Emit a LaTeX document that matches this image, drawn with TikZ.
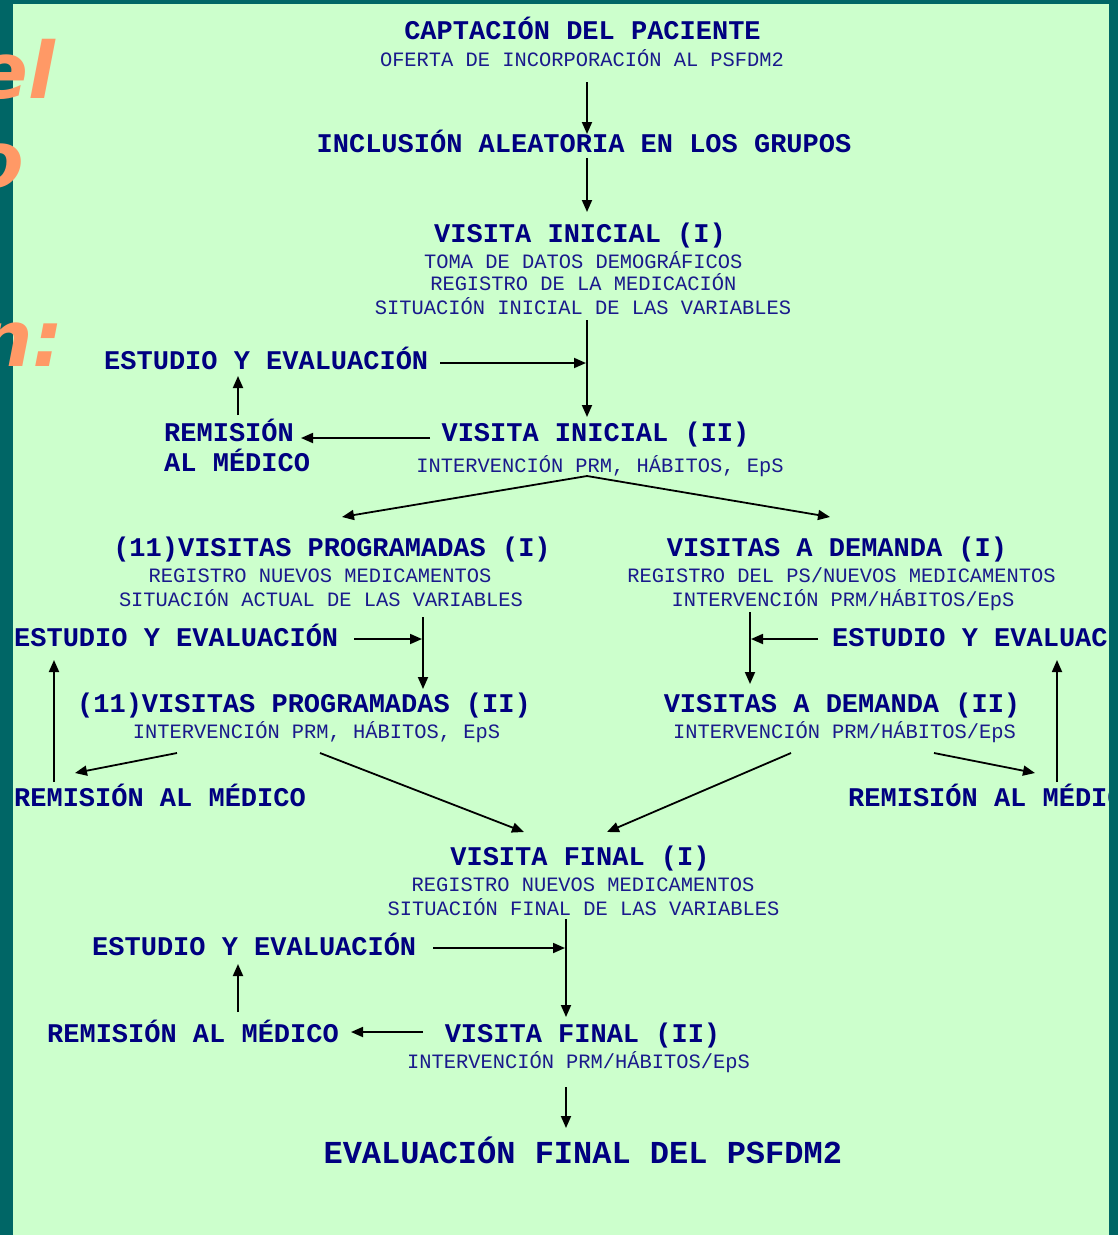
\documentclass[tikz,border=0pt]{standalone}
\usepackage{fontspec}
\setmonofont{Liberation Mono}
\newfontfamily\orfont{DejaVu Sans}
\usetikzlibrary{arrows.meta}
\definecolor{panel}{HTML}{CCFFCC}
\definecolor{frame}{HTML}{006666}
\definecolor{ink}{HTML}{000080}
\definecolor{subink}{HTML}{1A1A8C}
\definecolor{orange}{HTML}{FF9966}
\tikzset{
  hd/.style={font=\fontsize{27}{30}\selectfont\ttfamily\bfseries, text=ink, inner sep=0pt, anchor=base},
  hdl/.style={hd, anchor=base west},
  sb/.style={font=\fontsize{20.4}{24}\selectfont\ttfamily, text=subink, inner sep=0pt, anchor=base},
  big/.style={font=\fontsize{32}{36}\selectfont\ttfamily\bfseries, text=ink, inner sep=0pt, anchor=base},
  arr/.style={draw=black, line width=1.8pt, -{Triangle[length=12pt,width=10pt]}},
  orn/.style={font=\fontsize{78}{80}\selectfont\orfont\bfseries\itshape, text=orange, inner sep=0pt, anchor=base east}
}
\begin{document}
\begin{tikzpicture}[x=1pt,y=-1pt]
\useasboundingbox (0,0) rectangle (1118,1235);
\fill[panel] (0,0) rectangle (1118,1235);

% ---- texts ----
\node[hd] (capt) at (582.5,39) {CAPTACIÓN DEL PACIENTE};
\node[sb] (capts) at (582,66) {OFERTA DE INCORPORACIÓN AL PSFDM2};
\node[hd] (incl) at (584,152) {INCLUSIÓN ALEATORIA EN LOS GRUPOS};
\node[hd] (vi1) at (580,242) {VISITA INICIAL (I)};
\node[sb] (vi1a) at (583.3,268) {TOMA DE DATOS DEMOGRÁFICOS};
\node[sb] (vi1b) at (583.3,290) {REGISTRO DE LA MEDICACIÓN};
\node[sb] (vi1c) at (583,314) {SITUACIÓN INICIAL DE LAS VARIABLES};
\node[hdl] (est1) at (104,369) {ESTUDIO Y EVALUACIÓN};
\node[hdl] (rem1a) at (164,441) {REMISIÓN};
\node[hdl] (rem1b) at (164,471) {AL MÉDICO};
\node[hd] (vi2) at (595.5,441) {VISITA INICIAL (II)};
\node[sb] (vi2a) at (600,472) {INTERVENCIÓN PRM, HÁBITOS, EpS};

\node[hd] (vp1) at (332,556) {(11)VISITAS PROGRAMADAS (I)};
\node[sb] (vp1a) at (320,582) {REGISTRO NUEVOS MEDICAMENTOS};
\node[sb] (vp1b) at (321,606) {SITUACIÓN ACTUAL DE LAS VARIABLES};
\node[hdl] (est2) at (14,646) {ESTUDIO Y EVALUACIÓN};
\node[hd] (vp2) at (304,712) {(11)VISITAS PROGRAMADAS (II)};
\node[sb] (vp2a) at (316.5,738) {INTERVENCIÓN PRM, HÁBITOS, EpS};
\node[hdl] (rem2) at (14,806) {REMISIÓN AL MÉDICO};

\node[hd] (vd1) at (837,556) {VISITAS A DEMANDA (I)};
\node[sb] (vd1a) at (841.5,582) {REGISTRO DEL PS/NUEVOS MEDICAMENTOS};
\node[sb] (vd1b) at (843,606) {INTERVENCIÓN PRM/HÁBITOS/EpS};
\node[hdl] (est3) at (832,646) {ESTUDIO Y EVALUACIÓN};
\node[hd] (vd2) at (842,712) {VISITAS A DEMANDA (II)};
\node[sb] (vd2a) at (844.5,738) {INTERVENCIÓN PRM/HÁBITOS/EpS};
\node[hdl] (rem3) at (848,806) {REMISIÓN AL MÉDICO};

\node[hd] (vf1) at (580,865) {VISITA FINAL (I)};
\node[sb] (vf1a) at (583,891) {REGISTRO NUEVOS MEDICAMENTOS};
\node[sb] (vf1b) at (583.5,915) {SITUACIÓN FINAL DE LAS VARIABLES};
\node[hdl] (est4) at (92,955) {ESTUDIO Y EVALUACIÓN};
\node[hdl] (rem4) at (47,1042) {REMISIÓN AL MÉDICO};
\node[hd] (vf2) at (582.5,1042) {VISITA FINAL (II)};
\node[sb] (vf2a) at (578.5,1068) {INTERVENCIÓN PRM/HÁBITOS/EpS};
\node[big] (fin) at (582.8,1163) {EVALUACIÓN FINAL DEL PSFDM2};

% ---- connector end points ----
\coordinate (captOut) at (587,82);
\coordinate (inclIn) at (587,134);
\coordinate (inclOut) at (587,158);
\coordinate (vi1In) at (587,212);
\coordinate (vi1Out) at (587,320);
\coordinate (vi2In) at (587,417);
\coordinate (est1Out) at (440,363);
\coordinate (j1) at (586,363);
\coordinate (vi2Left) at (430,438);
\coordinate (rem1In) at (301,438);
\coordinate (rem1Out) at (238,415);
\coordinate (est1In) at (238,376);
\coordinate (vi2Out) at (587,476);
\coordinate (vp1In) at (342,517);
\coordinate (vd1In) at (830,517);

\coordinate (vp1Out) at (423,617);
\coordinate (vp2In) at (423,689);
\coordinate (est2Out) at (354,639);
\coordinate (j2) at (422,639);
\coordinate (vp2L) at (177,753);
\coordinate (rem2In) at (75,773);
\coordinate (vp2R) at (320,753);
\coordinate (vf1InL) at (524,832);
\coordinate (rem2Out) at (54,782);
\coordinate (est2In) at (54,660);

\coordinate (vd1Out) at (750,612);
\coordinate (vd2In) at (750,684);
\coordinate (est3Out) at (818,639);
\coordinate (j3) at (751,639);
\coordinate (vd2L) at (791,753);
\coordinate (vf1InR) at (607,832);
\coordinate (vd2R) at (934,753);
\coordinate (rem3In) at (1035,773);
\coordinate (rem3Out) at (1057,782);
\coordinate (est3In) at (1057,660);

\coordinate (vf1Out) at (566,919);
\coordinate (vf2In) at (566,1017);
\coordinate (est4Out) at (433,948);
\coordinate (j4) at (565,948);
\coordinate (rem4Out) at (238,1012);
\coordinate (est4In) at (238,964);
\coordinate (vf2Left) at (423,1032);
\coordinate (rem4In) at (351,1032);
\coordinate (vf2Out) at (566,1087);
\coordinate (finIn) at (566,1128);

% ---- connectors ----
\draw[arr] (captOut) -- (inclIn);
\draw[arr] (inclOut) -- (vi1In);
\draw[arr] (vi1Out) -- (vi2In);
\draw[arr] (est1Out) -- (j1);
\draw[arr] (vi2Left) -- (rem1In);
\draw[arr] (rem1Out) -- (est1In);
\draw[arr] (vi2Out) -- (vp1In);
\draw[arr] (vi2Out) -- (vd1In);

\draw[arr] (vp1Out) -- (vp2In);
\draw[arr] (est2Out) -- (j2);
\draw[arr] (vp2L) -- (rem2In);
\draw[arr] (vp2R) -- (vf1InL);
\draw[arr] (rem2Out) -- (est2In);

\draw[arr] (vd1Out) -- (vd2In);
\draw[arr] (est3Out) -- (j3);
\draw[arr] (vd2L) -- (vf1InR);
\draw[arr] (vd2R) -- (rem3In);
\draw[arr] (rem3Out) -- (est3In);

\draw[arr] (vf1Out) -- (vf2In);
\draw[arr] (est4Out) -- (j4);
\draw[arr] (rem4Out) -- (est4In);
\draw[arr] (vf2Left) -- (rem4In);
\draw[arr] (vf2Out) -- (finIn);

% ---- frame ----
\fill[frame] (1109,0) rectangle (1118,1235);
\fill[frame] (0,0) rectangle (1118,4);
\fill[frame] (0,0) rectangle (13,1235);

% ---- orange title fragments ----
\node[orn] (t1) at (55,98) {el};
\node[orn] (t2) at (24,187) {o};
\node[orn] (t3) at (64,366) {n:};
\end{tikzpicture}
\end{document}
